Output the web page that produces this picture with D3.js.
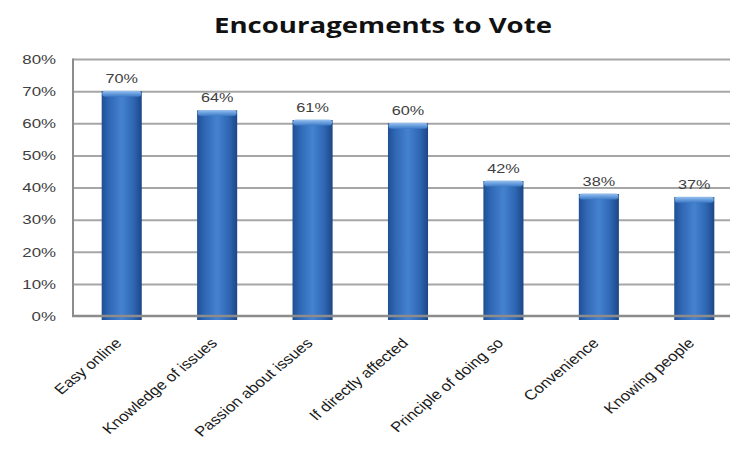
<!DOCTYPE html>
<html>
<head>
<meta charset="utf-8">
<script src="https://cdn.jsdelivr.net/npm/d3@7"></script>
<style>
  html, body { margin: 0; padding: 0; background: #fff; }
  svg { display: block; }
</style>
</head>
<body>
<svg id="chart" width="730" height="462"></svg>
<script>
// Survey results: share of respondents citing each encouragement to vote
const categories = ["Easy online", "Knowledge of issues", "Passion about issues",
  "If directly affected", "Principle of doing so", "Convenience", "Knowing people"];
const values = [70, 64, 61, 60, 42, 38, 37];
const yTicks = [0, 10, 20, 30, 40, 50, 60, 70, 80];
const chartTitle = "Encouragements to Vote";

const svg = d3.select("#chart");
const W = 730, H = 462;
const plot = { left: 73, right: 742, top: 59, bottom: 316 };
const stretch = 1.25;      // numeric labels are drawn slightly widened
const labelStretch = 1.2;  // category labels
const textFont = "'Liberation Sans', Arial, sans-serif";

const x = d3.scaleBand()
  .domain(categories)
  .range([plot.left + 1, plot.right])
  .paddingInner(0.58)
  .paddingOuter(0.29);

const y = d3.scaleLinear()
  .domain([0, 80])
  .range([plot.bottom, plot.top]);

// Gradients for the cylinder-like bars
const defs = svg.append("defs");
const body = defs.append("linearGradient").attr("id", "barBody")
  .attr("x1", "0%").attr("x2", "100%").attr("y1", "0%").attr("y2", "0%");
[["0%", "#1f4f93"], ["18%", "#2f67b4"], ["50%", "#4482cf"], ["80%", "#2e66b2"], ["100%", "#1c4686"]]
  .forEach(([o, c]) => body.append("stop").attr("offset", o).attr("stop-color", c));
const cap = defs.append("linearGradient").attr("id", "barCap")
  .attr("x1", "0%").attr("x2", "0%").attr("y1", "0%").attr("y2", "100%");
[["0%", "#9cc3ee"], ["45%", "#6ea2e0"], ["100%", "#3d7ac6"]]
  .forEach(([o, c]) => cap.append("stop").attr("offset", o).attr("stop-color", c));

// Title
svg.append("text")
  .attr("x", 383).attr("y", 33)
  .attr("text-anchor", "middle")
  .attr("font-family", "'Open Sans', 'DejaVu Sans', sans-serif")
  .attr("font-weight", "bold")
  .attr("font-size", 22)
  .attr("textLength", 338)
  .attr("lengthAdjust", "spacingAndGlyphs")
  .attr("fill", "#111")
  .text(chartTitle);

// Horizontal gridlines
const grid = svg.append("g");
grid.selectAll("line")
  .data(yTicks.filter(t => t > 0))
  .join("line")
  .attr("x1", plot.left).attr("x2", W)
  .attr("y1", d => y(d) + 0.5).attr("y2", d => y(d) + 0.5)
  .attr("stroke", "#a6a6a6").attr("stroke-width", 2);

// Left plot border
svg.append("line")
  .attr("x1", plot.left).attr("x2", plot.left)
  .attr("y1", plot.top - 0.5).attr("y2", plot.bottom + 1)
  .attr("stroke", "#8c8c8c").attr("stroke-width", 2);

// Y axis labels
const yAxis = d3.axisLeft(y)
  .tickValues(yTicks)
  .tickFormat(d => d + "%")
  .tickSize(0)
  .tickPadding(0);
const yg = svg.append("g")
  .attr("transform", `translate(${plot.left},0)`)
  .call(yAxis);
yg.select(".domain").remove();
yg.selectAll("text")
  .attr("x", -17 / stretch)
  .attr("transform", `scale(${stretch},1)`)
  .attr("font-family", textFont)
  .attr("font-size", 13.5)
  .attr("fill", "#404040");

// Bars
const bars = svg.append("g").selectAll("g")
  .data(categories.map((c, i) => ({ c, v: values[i] })))
  .join("g");

bars.append("rect")
  .attr("x", d => x(d.c))
  .attr("width", x.bandwidth())
  .attr("y", d => y(d.v))
  .attr("height", d => y(0) - y(d.v) + 4)
  .attr("fill", "url(#barBody)");

bars.append("rect")
  .attr("x", d => x(d.c) + 0.5)
  .attr("width", x.bandwidth() - 1)
  .attr("y", d => y(d.v) - 0.5)
  .attr("height", 6)
  .attr("rx", 3).attr("ry", 3)
  .attr("fill", "url(#barCap)");

// Base axis line drawn over the bars
svg.append("line")
  .attr("x1", plot.left - 1).attr("x2", W)
  .attr("y1", plot.bottom).attr("y2", plot.bottom)
  .attr("stroke", "#8c8c8c").attr("stroke-width", 2.5);

// Value labels
bars.append("text")
  .attr("transform", d => `translate(${x(d.c) + x.bandwidth() / 2},${y(d.v) - 8}) scale(${stretch},1)`)
  .attr("text-anchor", "middle")
  .attr("font-family", textFont)
  .attr("font-size", 13)
  .attr("fill", "#404040")
  .text(d => d.v + "%");

// Category labels, rotated
const xAxis = d3.axisBottom(x).tickSize(0).tickPadding(0);
const xg = svg.append("g")
  .attr("transform", `translate(0,${plot.bottom})`)
  .call(xAxis);
xg.select(".domain").remove();
xg.selectAll("text")
  .attr("font-family", textFont)
  .attr("font-size", 14)
  .attr("fill", "#1a1a1a")
  .attr("text-anchor", "end")
  .attr("x", 0).attr("y", 0)
  .attr("dy", null)
  .attr("transform", `translate(1,28) scale(${labelStretch},1) rotate(-45)`);
</script>
</body>
</html>
